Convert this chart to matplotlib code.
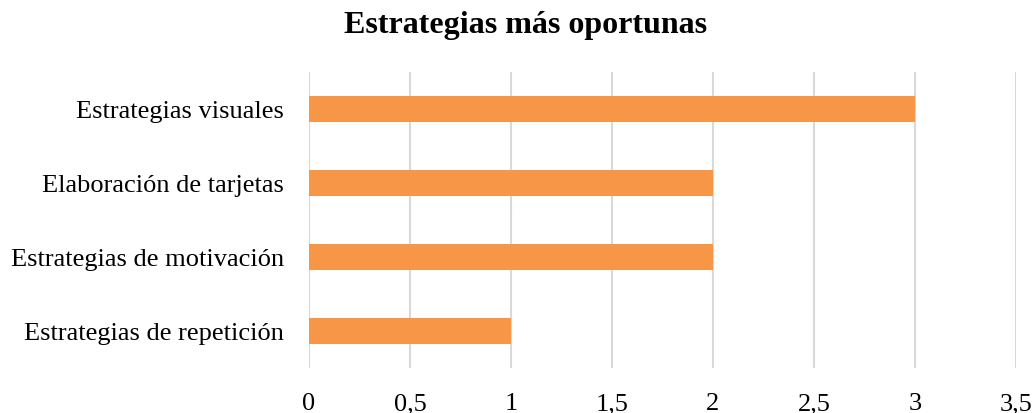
import matplotlib.pyplot as plt

# datos
categorias = ['Estrategias de repetición', 'Estrategias de motivación',
              'Elaboración de tarjetas', 'Estrategias visuales']
valores = [1, 2, 2, 3]
ticks = [0, 0.5, 1, 1.5, 2, 2.5, 3, 3.5]
tick_labels = ['0', '0,5', '1', '1,5', '2', '2,5', '3', '3,5']

plt.rcParams['font.family'] = ['Liberation Serif', 'DejaVu Serif']

fig = plt.figure(figsize=(10.34, 4.14), dpi=100)
ax = fig.add_axes([0.2988, 0.1087, 0.6838, 0.715])

ax.barh(range(len(categorias)), valores, height=0.35, color='#F79646', zorder=3)

ax.set_xlim(0, 3.5)
ax.set_ylim(-0.5, len(categorias) - 0.5)
ax.set_xticks(ticks)
ax.set_xticklabels(tick_labels, fontsize=19)
ax.set_yticks(range(len(categorias)))
ax.set_yticklabels(categorias, fontsize=19)
ax.tick_params(axis='x', length=0, pad=29.5)
ax.tick_params(axis='y', length=0, pad=18)
for lbl in ax.get_xticklabels():
    lbl.set_va('baseline')
ax.grid(axis='x', color='#d9d9d9', linewidth=1.5, zorder=0)
for s in ax.spines.values():
    s.set_visible(False)

fig.text(0.5087, 0.920, 'Estrategias más oportunas', fontsize=23,
         fontweight='bold', ha='center', va='baseline')

fig.savefig('out.png')
